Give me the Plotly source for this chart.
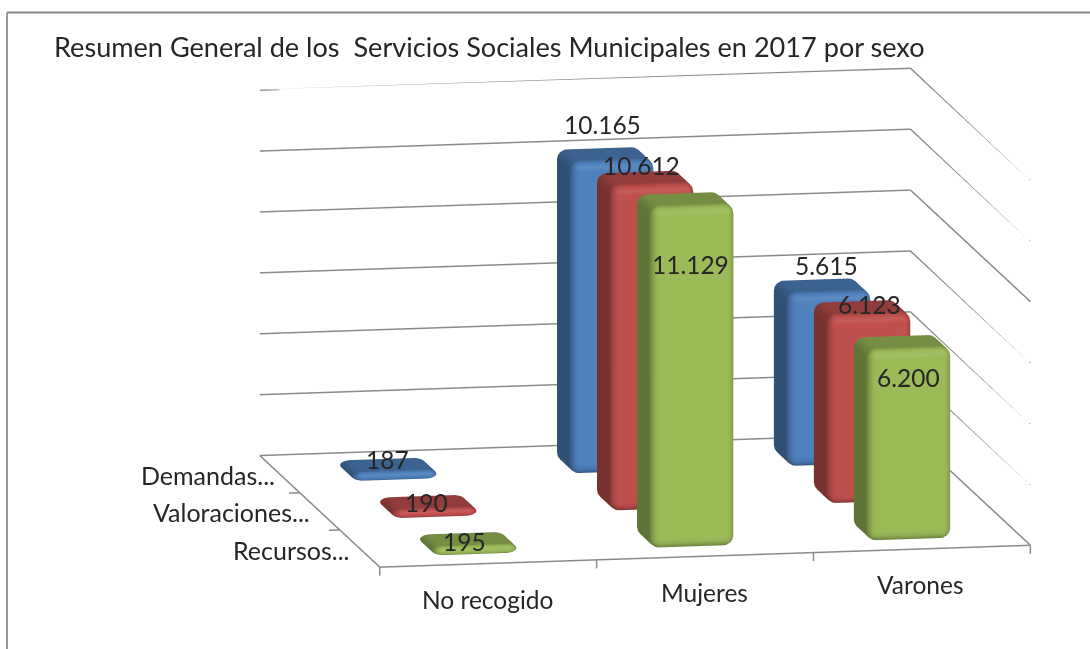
import math
import plotly.graph_objects as go

TITLE = "Resumen General de los  Servicios Sociales Municipales en 2017 por sexo"
CATEGORIES = ["No recogido", "Mujeres", "Varones"]
SERIES = ["Recursos...", "Valoraciones...", "Demandas..."]  # front to back
RECURSOS = [195, 11129, 6200]
VALORACIONES = [190, 10612, 6123]
DEMANDAS = [187, 10165, 5615]
VALUE_TICKS = [0, 2000, 4000, 6000, 8000, 10000, 12000]
COLORS = {"Recursos...": (155, 187, 89), "Valoraciones...": (192, 80, 77), "Demandas...": (79, 129, 189)}
SERIES_VALUES = {"Recursos...": RECURSOS, "Valoraciones...": VALORACIONES, "Demandas...": DEMANDAS}

# label pixel nudges (style only), indexed [series][category]
LABEL_SHIFT = {
    "Recursos...": [(-4, 3), (5, 66), (6, 36)],
    "Valoraciones...": [(-2, 1), (-4, -12), (7, -2)],
    "Demandas...": [(-1, -5), (-3, -29), (4, -19)],
}
FONT = "Lato"
TXT = "#262626"
GRID = "#8a8a8a"

XR = [-0.05, 3.0]
YR = [0.0, 3.0]
ZR = [-300.0, 12000.0]
BAR = 0.39
GAP = (1 - BAR) / 2
R_H = 0.05
R_Z = 330.0
BASE = -110.0
ARC = 5
BEV = 4


def shade_rgb(base, nx, ny, nz):
    f = max(0, -ny) ** 2
    l = max(0, -nx) ** 2
    r = max(0, nx) ** 2
    b = max(0, ny) ** 2
    t = max(0, nz) ** 2
    d = max(0, -nz) ** 2
    s = f * 1.0 + l * 0.62 + t * 0.76 + r * 0.72 + b * 0.7 + d * 0.6
    s += 0.24 * math.sqrt(f * t) + 0.08 * math.sqrt(f * l) + 0.10 * math.sqrt(f * r)
    if s <= 1:
        c = [v * s for v in base]
    else:
        c = [v + (255 - v) * (s - 1) * 1.6 for v in base]
    return "rgb(%d,%d,%d)" % tuple(min(255, max(0, round(v))) for v in c)


def bar_mesh(cat_i, ser_i, value, base):
    u0, v0 = cat_i + GAP, ser_i + GAP
    u1, v1 = u0 + BAR, v0 + BAR
    rz = min(R_Z, (value - BASE) / 2)
    rh = R_H
    corners = [(u1 - rh, v1 - rh, 0), (u0 + rh, v1 - rh, 90), (u0 + rh, v0 + rh, 180), (u1 - rh, v0 + rh, 270)]
    rings = [(-90 + 90 * k / BEV, BASE + rz) for k in range(BEV + 1)] + [(90 * k / BEV, value - rz) for k in range(BEV + 1)]
    xs, ys, zs, cs, ii, jj, kk = [], [], [], [], [], [], []
    per = 4 * (ARC + 1)
    for phi, zc in rings:
        p = math.radians(phi)
        for cu, cv, th0 in corners:
            for a in range(ARC + 1):
                th = math.radians(th0 + 90 * a / ARC)
                nx, ny, nz = math.cos(p) * math.cos(th), math.cos(p) * math.sin(th), math.sin(p)
                xs.append(cu + rh * nx)
                ys.append(cv + rh * ny)
                zs.append(zc + rz * nz)
                cs.append(shade_rgb(base, nx, ny, nz))
    n = len(rings)
    for ring in range(n - 1):
        for q in range(per):
            a = ring * per + q
            b = ring * per + (q + 1) % per
            c = (ring + 1) * per + q
            d = (ring + 1) * per + (q + 1) % per
            ii += [a, b]
            jj += [b, d]
            kk += [c, c]
    for ring in (0, n - 1):
        for q in range(1, per - 1):
            ii.append(ring * per)
            jj.append(ring * per + q)
            kk.append(ring * per + q + 1)
    return go.Mesh3d(x=xs, y=ys, z=zs, i=ii, j=jj, k=kk, vertexcolor=cs, flatshading=False,
                     lighting=dict(ambient=1, diffuse=0, specular=0, roughness=1, fresnel=0),
                     hoverinfo="skip", showscale=False)


fig = go.Figure()


def line(xs, ys, zs):
    fig.add_trace(go.Scatter3d(x=xs, y=ys, z=zs, mode="lines", line=dict(color=GRID, width=3),
                               hoverinfo="skip", showlegend=False))


nc, ns = len(CATEGORIES), len(SERIES)
for z in VALUE_TICKS:
    line([0, nc, nc], [ns, ns, 0], [z, z, z])
line([0, 0, nc], [ns, 0, 0], [0, 0, 0])
for c in range(nc + 1):
    line([c, c], [0, 0], [0, -280])
for s in range(1, ns):
    line([0, -0.05], [s, s], [0, 0])

anns = []
for s, name in enumerate(SERIES):
    vals = SERIES_VALUES[name]
    for c, v in enumerate(vals):
        fig.add_trace(bar_mesh(c, s, v, COLORS[name]))
        dx, dy = LABEL_SHIFT[name][c]
        anns.append(dict(x=c + 0.5, y=s + 0.5, z=v, text=f"{v:,}".replace(",", "."), showarrow=False,
                         xshift=dx, yshift=-dy, font=dict(family=FONT, size=24.5, color=TXT)))
for c, name in enumerate(CATEGORIES):
    anns.append(dict(x=c + 0.5, y=0, z=0, text=name, showarrow=False, xshift=-1, yshift=-36,
                     font=dict(family=FONT, size=24.5, color=TXT)))
SER_SHIFT = [-9, -8, -3]
for s, name in enumerate(SERIES):
    anns.append(dict(x=0, y=s + 0.5, z=0, text=name, showarrow=False, xanchor="right",
                     xshift=SER_SHIFT[s], yshift=-1, font=dict(family=FONT, size=25, color=TXT)))

# oblique view: the whole-axis screen vectors of the original chart, realised by an orthographic camera
K = 1.976
ax = K * 1.033 * (XR[1] - XR[0]) / 3
ay = K * 1.0 * (YR[1] - YR[0]) / 3
az = K * 0.579 * (ZR[1] - ZR[0]) / 12000
RIGHT = (0.982, -0.187, 0.0)
UP = (0.033, 0.174, 0.984)
DIR = (-0.184, -0.966, 0.177)
DIST = 4.0
OX, OY = -0.292, -0.0063
center = tuple(RIGHT[i] * OX + UP[i] * OY for i in range(3))
eye = tuple(center[i] + DIR[i] * DIST for i in range(3))

hidden = dict(visible=False)
fig.update_layout(
    width=1090, height=649, margin=dict(l=0, r=0, t=0, b=0), paper_bgcolor="white", showlegend=False,
    scene=dict(
        domain=dict(x=[0, 1], y=[0, 1]), bgcolor="white",
        xaxis=dict(hidden, range=XR), yaxis=dict(hidden, range=YR), zaxis=dict(hidden, range=ZR),
        aspectmode="manual", aspectratio=dict(x=ax, y=ay, z=az),
        camera=dict(projection=dict(type="orthographic"),
                    eye=dict(x=eye[0], y=eye[1], z=eye[2]),
                    center=dict(x=center[0], y=center[1], z=center[2]),
                    up=dict(x=UP[0], y=UP[1], z=UP[2])),
        annotations=anns,
    ),
    annotations=[dict(xref="paper", yref="paper", x=52 / 1090, y=1 - 46 / 649, xanchor="left", yanchor="middle",
                      text=TITLE.replace("  ", "&nbsp; "), showarrow=False, font=dict(family=FONT, size=27.1, color=TXT))],
    shapes=[
        dict(type="line", xref="paper", yref="paper", x0=7 / 1090, x1=1, y0=1 - 12.5 / 649, y1=1 - 12.5 / 649,
             line=dict(color="#858585", width=2)),
        dict(type="line", xref="paper", yref="paper", x0=7 / 1090, x1=7 / 1090, y0=0, y1=1 - 12.5 / 649,
             line=dict(color="#9a9a9a", width=2)),
    ],
)
fig.write_html("out.html", post_script="document.body.style.margin='0';", config=dict(displayModeBar=False))
